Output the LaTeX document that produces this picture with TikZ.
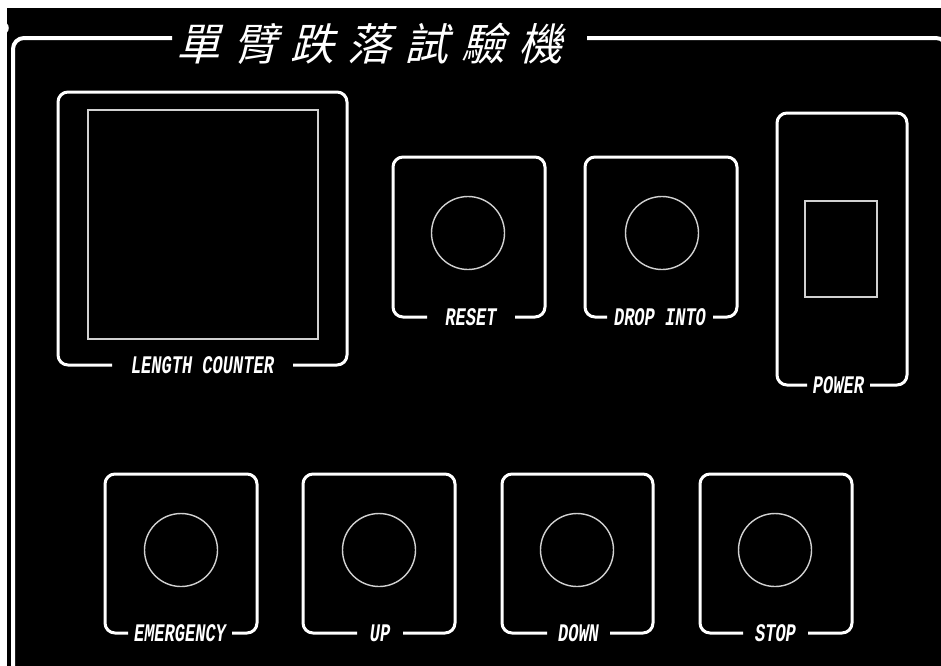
\documentclass[tikz,border=0pt]{standalone}
\usepackage{fontspec}
\newfontfamily\cjk{Noto Sans CJK TC}
\newfontfamily\lblfont{Liberation Mono}
\definecolor{thinline}{gray}{0.82}
\tikzset{
  panel/.style={draw=white, line width=3pt, rounded corners=10pt},
  frameline/.style={draw=white, line width=4pt, rounded corners=11pt},
  thinpart/.style={draw=thinline, line width=1.4pt},
  lbl/.style={text=white, font=\lblfont\bfseries\itshape\fontsize{23}{23}\selectfont, xscale=0.74, yscale=1.1, inner sep=0pt},
  ttl/.style={text=white, font=\cjk\fontsize{44}{44}\selectfont, inner sep=0pt, xslant=0.25}
}
\newcommand\ctlpanel[8]{%
  \draw[panel] (#6,#5) -- (#2,#5) -- (#2,#3) -- (#4,#3) -- (#4,#5) -- (#7,#5);
  \node[lbl] (#1-lbl) at ({(#6+#7)/2},#5) {#8};
}
\begin{document}
\begin{tikzpicture}[x=1pt,y=-1pt]
\useasboundingbox (0,0) rectangle (941,665);
\fill[white] (0,0) rectangle (941,665);
\fill[black] (7,8) rectangle (945,670);
% small mark at top left
\draw[white, line width=1.5pt] (2,28) circle (6);
% outer frame
\coordinate (fl) at (172,38);
\coordinate (fr) at (587,38);
\draw[frameline] (fl) -- (13,38) -- (13,680);
\draw[frameline] (fr) -- (947,38) -- (947,680);
% title
\node[ttl] (title) at (374,44) {單\hspace{13pt}臂\hspace{13pt}跌\hspace{13pt}落\hspace{13pt}試\hspace{13pt}驗\hspace{13pt}機};
% length counter
\ctlpanel{lc}{58}{92}{347}{365}{112}{293}{LENGTH COUNTER}
\draw[thinpart] (88,110) rectangle (318,339);
% reset / drop into
\ctlpanel{reset}{393}{157}{545}{317}{427}{515}{RESET}
\node[thinpart, circle, minimum size=73pt, inner sep=0pt] (resetbtn) at (468,233) {};
\ctlpanel{drop}{585}{157}{737}{317}{607}{713}{DROP INTO}
\node[thinpart, circle, minimum size=73pt, inner sep=0pt] (dropbtn) at (662,233) {};
% power
\ctlpanel{power}{777}{113}{907}{385}{807}{870}{POWER}
\draw[thinpart] (805,201) rectangle (877,297);
% bottom row
\ctlpanel{emerg}{105}{474}{257}{633}{128}{232}{EMERGENCY}
\node[thinpart, circle, minimum size=73pt, inner sep=0pt] (emergbtn) at (181,550) {};
\ctlpanel{up}{303}{474}{455}{633}{357}{403}{UP}
\node[thinpart, circle, minimum size=73pt, inner sep=0pt] (upbtn) at (379,550) {};
\ctlpanel{down}{502}{474}{653}{633}{547}{610}{DOWN}
\node[thinpart, circle, minimum size=73pt, inner sep=0pt] (downbtn) at (577,550) {};
\ctlpanel{stop}{700}{474}{852}{633}{743}{808}{STOP}
\node[thinpart, circle, minimum size=73pt, inner sep=0pt] (stopbtn) at (775,550) {};
\end{tikzpicture}
\end{document}
